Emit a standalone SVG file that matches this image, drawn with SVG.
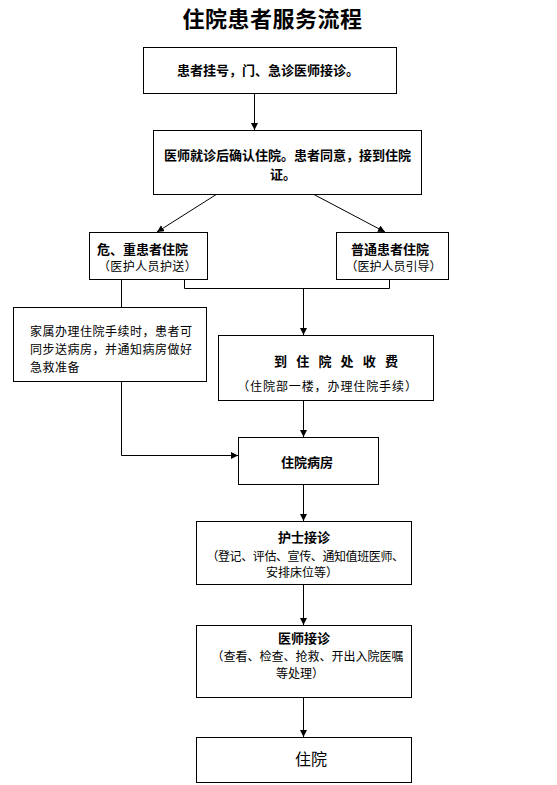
<svg xmlns="http://www.w3.org/2000/svg" width="557" height="785" viewBox="0 0 557 785">
<style>
.box{fill:#fff;stroke:#000;stroke-width:1}
.t{font-family:"Liberation Sans","Noto Sans CJK SC",sans-serif;fill:#000;dominant-baseline:central;text-anchor:middle}
.b{font-weight:bold;font-size:13px}
.n{font-size:12px}
.l{text-anchor:start}
.c{fill:none;stroke:#000;stroke-width:1}
</style>
<defs>
<marker id="ah" markerUnits="userSpaceOnUse" markerWidth="8" markerHeight="8" refX="7" refY="3.5" orient="auto">
<path d="M0,0 L7,3.5 L0,7 z" fill="#000"/>
</marker>
</defs>
<rect width="557" height="785" fill="#fff"/>
<text class="t" x="272.5" y="19" style="font-size:22px;font-weight:bold;letter-spacing:0.5px">住院患者服务流程</text>

<g id="connectors">
<path class="c" d="M254.5,93 V130" marker-end="url(#ah)"/>
<path class="c" d="M217,194 L157,232" marker-end="url(#ah)"/>
<path class="c" d="M313,194 L385,232" marker-end="url(#ah)"/>
<path class="c" d="M121.5,279 V307"/>
<path class="c" d="M184.5,279 V288.5 H389.5 V279"/>
<path class="c" d="M303.5,288.5 V335" marker-end="url(#ah)"/>
<path class="c" d="M121.5,381 V455.5 H238" marker-end="url(#ah)"/>
<path class="c" d="M303.5,400 V437" marker-end="url(#ah)"/>
<path class="c" d="M303.5,484 V521" marker-end="url(#ah)"/>
<path class="c" d="M303.5,584 V625" marker-end="url(#ah)"/>
<path class="c" d="M303.5,697 V737" marker-end="url(#ah)"/>
</g>

<g id="n1">
<rect class="box" x="143.5" y="47.5" width="253" height="46"/>
<text class="t b" x="268" y="70">患者挂号，门、急诊医师接诊。</text>
</g>
<g id="n2">
<rect class="box" x="153.5" y="130.5" width="268" height="64"/>
<text class="t b" x="287.5" y="155">医师就诊后确认住院。患者同意，接到住院</text>
<text class="t b" x="283" y="174">证。</text>
</g>
<g id="n3">
<rect class="box" x="89.5" y="232.5" width="118" height="47"/>
<text class="t b" x="142.5" y="249">危、重患者住院</text>
<text class="t n" x="147.5" y="266.5" style="letter-spacing:0.4px">（医护人员护送）</text>
</g>
<g id="n4">
<rect class="box" x="336.5" y="232.5" width="112" height="47"/>
<text class="t b" x="390" y="249">普通患者住院</text>
<text class="t n" x="393.5" y="266.5">（医护人员引导）</text>
</g>
<g id="n5">
<rect class="box" x="13.5" y="307.5" width="193" height="74"/>
<text class="t n l" x="30" y="332" style="letter-spacing:0.5px">家属办理住院手续时，患者可</text>
<text class="t n l" x="30" y="350" style="letter-spacing:0.5px">同步送病房，并通知病房做好</text>
<text class="t n l" x="30" y="368" style="letter-spacing:0.5px">急救准备</text>
</g>
<g id="n6">
<rect class="box" x="218.5" y="335.5" width="215" height="65"/>
<text class="t b" x="336" y="361" textLength="124" lengthAdjust="spacing" xml:space="preserve">到 住 院 处 收 费</text>
<text class="t n" x="327.5" y="387" style="letter-spacing:0.9px">（住院部一楼，办理住院手续）</text>
</g>
<g id="n7">
<rect class="box" x="238.5" y="437.5" width="140" height="47"/>
<text class="t b" x="307" y="462">住院病房</text>
</g>
<g id="n8">
<rect class="box" x="196.5" y="521.5" width="215" height="63"/>
<text class="t b" x="304" y="537">护士接诊</text>
<text class="t n" x="305" y="557" style="letter-spacing:-0.4px">（登记、评估、宣传、通知值班医师、</text>
<text class="t n" x="302" y="573">安排床位等）</text>
</g>
<g id="n9">
<rect class="box" x="196.5" y="625.5" width="215" height="72"/>
<text class="t b" x="304" y="638">医师接诊</text>
<text class="t n" x="307.5" y="657">（查看、检查、抢救、开出入院医嘱</text>
<text class="t n" x="300" y="674">等处理）</text>
</g>
<g id="n10">
<rect class="box" x="196.5" y="737.5" width="215" height="45"/>
<text class="t" x="311" y="759" style="font-size:16px">住院</text>
</g>
</svg>
